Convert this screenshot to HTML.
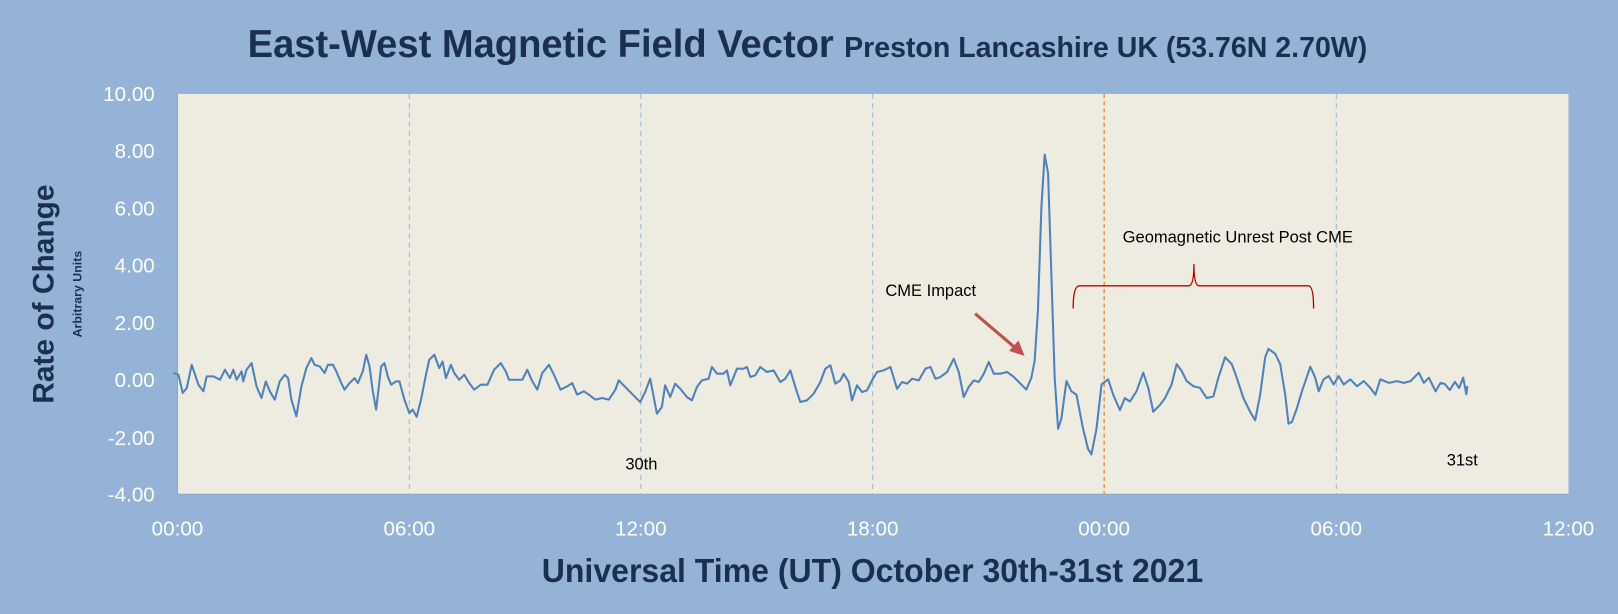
<!DOCTYPE html>
<html><head><meta charset="utf-8"><style>
body{margin:0;background:#95b3d7;}
svg{display:block;font-family:"Liberation Sans",sans-serif;}
</style></head><body>
<svg id="s" width="1618" height="614" viewBox="0 0 1568 595" preserveAspectRatio="none" xmlns="http://www.w3.org/2000/svg">
<rect width="1568" height="595" fill="#95b3d7"/>
<rect x="172" y="91" width="1348" height="388" fill="#eeece1"/>
<g stroke="#9fb6d4" stroke-width="1" stroke-dasharray="5,4">
<line x1="396.7" y1="91" x2="396.7" y2="479"/><line x1="621" y1="91" x2="621" y2="479"/>
<line x1="845.7" y1="91" x2="845.7" y2="479"/><line x1="1295" y1="91" x2="1295" y2="479"/>
</g>
<line x1="1070" y1="91" x2="1070" y2="479" stroke="#e46c0a" stroke-width="1" stroke-dasharray="4,3"/>
<g stroke="#8ea6c4" stroke-width="1">
<line x1="172" y1="91" x2="172" y2="479"/><line x1="172" y1="479" x2="1520" y2="479"/>
</g>
<g fill="#fff" font-size="20" text-anchor="end">
<text x="150" y="98">10.00</text><text x="150" y="153">8.00</text><text x="150" y="209">6.00</text>
<text x="150" y="264">4.00</text><text x="150" y="320">2.00</text><text x="150" y="375">0.00</text>
<text x="150" y="431">-2.00</text><text x="150" y="486">-4.00</text>
</g>
<g fill="#fff" font-size="20" text-anchor="middle">
<text x="172" y="519">00:00</text><text x="396.7" y="519">06:00</text><text x="621" y="519">12:00</text>
<text x="845.7" y="519">18:00</text><text x="1070" y="519">00:00</text><text x="1295" y="519">06:00</text><text x="1520" y="519">12:00</text>
</g>
<text x="240" y="55" font-size="38" font-weight="bold" fill="#1b3050" textLength="568" lengthAdjust="spacingAndGlyphs">East-West Magnetic Field Vector</text>
<text x="818" y="55" font-size="28" font-weight="bold" fill="#1b3050" textLength="507" lengthAdjust="spacingAndGlyphs">Preston Lancashire UK (53.76N 2.70W)</text>
<text x="525" y="564" font-size="32" font-weight="bold" fill="#1b3050" textLength="641" lengthAdjust="spacingAndGlyphs">Universal Time (UT) October 30th-31st 2021</text>
<text transform="translate(52,285) rotate(-90)" font-size="29" font-weight="bold" fill="#1b3050" text-anchor="middle">Rate of Change</text>
<text transform="translate(79,285) rotate(-90)" font-size="12" font-weight="bold" fill="#1b3050" text-anchor="middle">Arbitrary Units</text>
<g font-size="16" fill="#000">
<text x="858" y="287">CME Impact</text><text x="606" y="455">30th</text><text x="1402" y="451">31st</text>
<text x="1088" y="235">Geomagnetic Unrest Post CME</text>
</g>
<line x1="945" y1="304" x2="985" y2="338" stroke="#c0504d" stroke-width="3"/>
<polygon points="993,345 978,340 987,330" fill="#c0504d"/>
<path d="M1040,299 Q1040,277 1046,277 L1152,277 Q1157,277 1157,256 Q1157,277 1162,277 L1268,277 Q1273,277 1273,299" fill="none" stroke="#c00000" stroke-width="1.3"/>
<polyline id="d" fill="none" stroke="#4f81bd" stroke-width="2" stroke-linejoin="round"/>
</svg>
<script>
var z1=[[0,160],[15,165],[28,220],[40,205],[55,135],[75,195],[90,215],[100,170],[120,170],[140,180],[155,150],[170,175],[180,150],[190,180],[205,155],[210,185],[220,150],[235,130],[250,200],[265,235],[278,185],[290,215],[305,240],[320,185],[335,165],[345,175],[355,240],[370,290],[385,200],[400,145],[415,115],[425,135],[440,140],[455,160],[465,135],[480,135],[490,155],[505,190],[515,210],[530,190],[545,175],[555,190],[570,155],[580,105],[590,140],[600,215],[610,270],[625,140],[635,130],[645,170],[655,195],[670,185],[680,185],[695,240],[710,280],[720,270],[732,292],[745,240],[760,165],[770,120],[785,105],[800,145],[810,125],[820,175],[835,135],[845,160],[860,180],[875,165],[890,190],[905,210],[925,195],[945,195],[965,150],[985,130],[1000,155],[1010,180],[1030,180],[1050,180],[1065,150],[1080,185],[1095,210],[1110,160],[1130,135],[1145,165],[1165,210],[1185,200],[1200,190],[1215,225],[1235,215],[1250,225],[1270,240],[1290,235],[1310,240],[1330,210],[1340,182]];
var z2=[[60,240],[75,210],[90,170],[110,275],[125,255],[135,190],[150,225],[165,185],[180,200],[200,225],[215,235],[230,195],[245,175],[265,170],[275,135],[290,155],[310,155],[320,145],[330,190],[350,140],[370,140],[380,135],[390,165],[405,160],[420,135],[440,150],[460,145],[480,180],[495,170],[510,145],[530,210],[540,240],[560,235],[580,215],[600,180],[615,140],[630,130],[645,185],[660,175],[670,155],[685,180],[695,235],[710,190],[725,210],[740,205],[755,175],[770,150],[790,145],[810,135],[830,200],[845,180],[860,185],[875,170],[895,175],[915,140],[930,135],[945,170],[960,165],[980,150],[1000,110],[1015,150],[1030,225],[1045,195],[1060,175],[1075,180],[1090,155],[1105,120],[1120,155],[1140,155],[1160,150],[1180,165]];
var z3=[[140,735],[155,700],[165,650],[175,500],[185,200],[195,45],[205,100],[215,400],[225,700],[235,850],[245,820],[260,710],[275,740],[290,750],[310,850],[325,910],[335,925],[350,850],[365,720],[385,705],[400,750],[420,795],[435,760],[450,770],[470,740],[490,685],[505,730],[520,800],[540,780],[555,760],[575,720],[590,660],[605,680],[620,710],[640,725],[660,730],[680,760],[700,755],[715,700],[735,640],[755,660],[770,700],[790,760],[810,800],[825,825],[840,750],[855,640],[865,615],[885,630],[900,660],[915,750],[925,835],[935,830],[950,790],[965,740],[990,668],[1005,700],[1015,740],[1030,705],[1045,695],[1060,720],[1075,695],[1090,720],[1110,705],[1130,725],[1150,710],[1170,730],[1185,750],[1200,705],[1225,715],[1250,710],[1270,715],[1290,710],[1315,685],[1330,715],[1345,700],[1365,740],[1380,715]];
var p=[];
z1.forEach(function(a){p.push([168.1+a[0]*0.322,310+a[1]*0.322]);});
z2.forEach(function(a){p.push([601+a[0]*0.3233,312+a[1]*0.3233]);});
z3.forEach(function(a){p.push([949.3+a[0]*0.3237,135+a[1]*0.33]);});
[[1400,372],[1405,378],[1410,370],[1414,376],[1418,366],[1421,382],[1422,374]].forEach(function(a){p.push(a);});
document.getElementById('d').setAttribute('points',p.map(function(a){return a[0].toFixed(1)+','+a[1].toFixed(1);}).join(' '));
</script>
</body></html>
